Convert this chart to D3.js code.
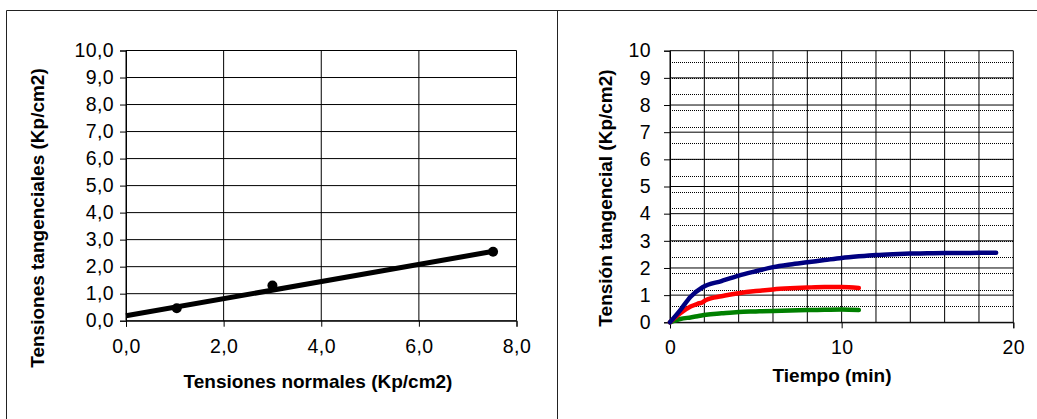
<!DOCTYPE html>
<html>
<head>
<meta charset="utf-8">
<script src="https://cdn.jsdelivr.net/npm/d3@7/dist/d3.min.js"></script>
<style>
  body { margin: 0; background: #fff; }
  svg { display: block; }
  text { font-family: "Liberation Sans", Arial, sans-serif; fill: #000; }
</style>
</head>
<body>
<script>
// ---- Left chart: shear strength envelope ----
const normalStress = [1.04, 3.0, 7.52];          // Kp/cm2
const shearStress  = [0.46, 1.30, 2.55];         // Kp/cm2
const trendNormal  = [0, 7.5];
const trendShear   = [0.18, 2.56];
const leftXTicks   = [0, 2, 4, 6, 8];
const leftYTicks   = [0, 1, 2, 3, 4, 5, 6, 7, 8, 9, 10];

// ---- Right chart: shear stress vs time for each normal load ----
const timeLong   = [0, 0.6, 1.2, 1.9, 3, 4, 5, 6, 7, 8, 9, 10, 11, 12, 13, 14, 15, 16, 17, 18, 19];
const shearHigh  = [0, 0.45, 0.94, 1.29, 1.52, 1.72, 1.88, 2.03, 2.13, 2.21, 2.29, 2.37, 2.43, 2.48, 2.51, 2.53, 2.54, 2.55, 2.55, 2.56, 2.56];
const timeShort  = [0, 0.6, 1.2, 1.6, 1.9, 2.1, 3, 4, 5, 6, 7, 8, 9, 10, 11];
const shearMid   = [0, 0.33, 0.58, 0.68, 0.74, 0.82, 0.96, 1.07, 1.15, 1.21, 1.25, 1.28, 1.3, 1.3, 1.26];
const shearLow   = [0, 0.12, 0.18, 0.22, 0.26, 0.28, 0.33, 0.38, 0.4, 0.42, 0.43, 0.45, 0.46, 0.47, 0.45];
const rightXTicks = [0, 10, 20];
const rightXGrid  = [0, 2, 4, 6, 8, 10, 12, 14, 16, 18, 20];
const rightYTicks = [0, 1, 2, 3, 4, 5, 6, 7, 8, 9, 10];
const rightYMinor = [0.6, 1.2, 1.8, 2.4, 3.0, 3.6, 4.2, 4.8, 5.4, 6.0, 6.6, 7.2, 7.8, 8.4, 9.0, 9.6];

const W = 1037, H = 419;
const svg = d3.select("body").append("svg").attr("width", W).attr("height", H);

// outer frame of the two panels
const frame = svg.append("g").attr("stroke", "#222").attr("stroke-width", 1).attr("fill", "none");
frame.append("line").attr("x1", 6.5).attr("y1", 10.5).attr("x2", W).attr("y2", 10.5);
frame.append("line").attr("x1", 6.5).attr("y1", 10.5).attr("x2", 6.5).attr("y2", H);
frame.append("line").attr("x1", 557.5).attr("y1", 10.5).attr("x2", 557.5).attr("y2", H);

const tickFont = "19.5px";
const titleFont = "19px";
const comma1 = d => d.toFixed(1).replace(".", ",");

// ================= Left chart =================
{
  const x = d3.scaleLinear().domain([0, 8]).range([126, 516.5]);
  const y = d3.scaleLinear().domain([0, 10]).range([320.7, 50.5]);
  const g = svg.append("g");

  // grid
  g.append("g").selectAll("line").data(leftYTicks).join("line")
    .attr("x1", x(0)).attr("x2", x(8)).attr("y1", d => y(d)).attr("y2", d => y(d))
    .attr("stroke", "#000").attr("stroke-width", 1);
  g.append("g").selectAll("line").data(leftXTicks).join("line")
    .attr("x1", d => x(d)).attr("x2", d => x(d)).attr("y1", y(0)).attr("y2", y(10))
    .attr("stroke", "#000").attr("stroke-width", 1);

  // axes
  const ya = g.append("g").attr("transform", `translate(${x(0)},0)`)
    .call(d3.axisLeft(y).tickValues(leftYTicks).tickFormat(comma1).tickSize(6).tickPadding(6));
  const xa = g.append("g").attr("transform", `translate(0,${y(0)})`)
    .call(d3.axisBottom(x).tickValues(leftXTicks).tickFormat(comma1).tickSize(6).tickPadding(12));
  [ya, xa].forEach(a => {
    a.select(".domain").attr("stroke", "#000");
    a.selectAll(".tick line").attr("stroke", "#000");
    a.selectAll("text").attr("font-size", tickFont).attr("font-family", "Liberation Sans, Arial, sans-serif")
      .attr("letter-spacing", "0.4px");
  });

  // points and fitted line
  g.append("g").selectAll("circle").data(normalStress).join("circle")
    .attr("cx", d => x(d)).attr("cy", (d, i) => y(shearStress[i])).attr("r", 5).attr("fill", "#000");
  g.append("path")
    .datum(trendNormal.map((d, i) => [d, trendShear[i]]))
    .attr("d", d3.line().x(d => x(d[0])).y(d => y(d[1])))
    .attr("fill", "none").attr("stroke", "#000").attr("stroke-width", 5);

  // titles
  g.append("text").attr("x", 318).attr("y", 388).attr("text-anchor", "middle")
    .attr("font-size", titleFont).attr("font-weight", "bold").text("Tensiones normales (Kp/cm2)");
  g.append("text").attr("transform", "translate(44,218) rotate(-90)").attr("text-anchor", "middle")
    .attr("font-size", titleFont).attr("font-weight", "bold").text("Tensiones tangenciales (Kp/cm2)");
}

// ================= Right chart =================
{
  const x = d3.scaleLinear().domain([0, 20]).range([670, 1013.3]);
  const y = d3.scaleLinear().domain([0, 10]).range([322.3, 50.7]);
  const g = svg.append("g");

  // minor dotted grid
  g.append("g").selectAll("line").data(rightYMinor).join("line")
    .attr("x1", x(0)).attr("x2", x(20)).attr("y1", d => Math.round(y(d)) + 0.5).attr("y2", d => Math.round(y(d)) + 0.5)
    .attr("stroke", "#000").attr("stroke-width", 1).attr("stroke-dasharray", "1,1");
  // major grid
  g.append("g").selectAll("line").data(rightYTicks).join("line")
    .attr("x1", x(0)).attr("x2", x(20)).attr("y1", d => y(d)).attr("y2", d => y(d))
    .attr("stroke", "#000").attr("stroke-width", 1);
  g.append("g").selectAll("line").data(rightXGrid).join("line")
    .attr("x1", d => x(d)).attr("x2", d => x(d)).attr("y1", y(0)).attr("y2", y(10))
    .attr("stroke", "#000").attr("stroke-width", 1);

  const ya = g.append("g").attr("transform", `translate(${x(0)},0)`)
    .call(d3.axisLeft(y).tickValues(rightYTicks).tickFormat(d3.format("d")).tickSize(6).tickPadding(13));
  const xa = g.append("g").attr("transform", `translate(0,${y(0)})`)
    .call(d3.axisBottom(x).tickValues(rightXTicks).tickFormat(d3.format("d")).tickSize(6).tickPadding(12));
  [ya, xa].forEach(a => {
    a.select(".domain").attr("stroke", "#000");
    a.selectAll(".tick line").attr("stroke", "#000");
    a.selectAll("text").attr("font-size", tickFont).attr("font-family", "Liberation Sans, Arial, sans-serif")
      .attr("letter-spacing", "0.4px");
  });

  const line = d3.line().curve(d3.curveMonotoneX).x(d => x(d[0])).y(d => y(d[1]));
  const series = [
    { t: timeShort, v: shearLow,  color: "#008000" },
    { t: timeShort, v: shearMid,  color: "#ff0000" },
    { t: timeLong,  v: shearHigh, color: "#000080" }
  ];
  g.append("g").selectAll("path").data(series).join("path")
    .attr("d", s => line(s.t.map((t, i) => [t, s.v[i]])))
    .attr("fill", "none").attr("stroke", s => s.color).attr("stroke-width", 4.5)
    .attr("stroke-linecap", "round").attr("stroke-linejoin", "round");

  g.append("text").attr("x", 832).attr("y", 382).attr("text-anchor", "middle")
    .attr("font-size", titleFont).attr("font-weight", "bold").text("Tiempo (min)");
  g.append("text").attr("transform", "translate(612,198) rotate(-90)").attr("text-anchor", "middle")
    .attr("font-size", titleFont).attr("font-weight", "bold").text("Tensión tangencial (Kp/cm2)");
}
</script>
</body>
</html>
